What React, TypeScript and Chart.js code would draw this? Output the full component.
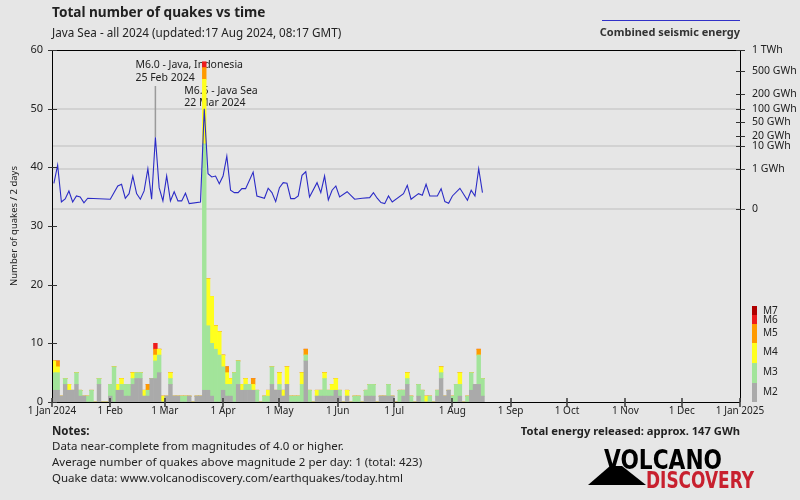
import React, { useEffect, useRef } from 'react';
import { Chart, registerables } from 'chart.js';

Chart.register(...registerables);

// ---------- data ----------
const monthDays = [0, 31, 60, 91, 121, 152, 182, 213, 244, 274, 305, 335, 366];
const monthLabels = ['1 Jan 2024', '1 Feb', '1 Mar', '1 Apr', '1 May', '1 Jun', '1 Jul', '1 Aug', '1 Sep', '1 Oct', '1 Nov', '1 Dec', '1 Jan 2025'];

// quakes per 2-day bin, bin i covers days 2i..2i+2 of 2024
const countM2 = [
  2, 2, 1, 3, 2, 2, 3, 1, 1, 0,
  0, 0, 3, 0, 0, 1, 0, 2, 2, 1,
  1, 3, 4, 4, 1, 1, 4, 4, 5, 0,
  1, 3, 1, 1, 0, 0, 1, 0, 1, 1,
  2, 2, 1, 0, 0, 2, 1, 1, 0, 3,
  2, 2, 2, 2, 0, 0, 0, 0, 3, 2,
  2, 1, 3, 0, 0, 0, 0, 7, 0, 0,
  1, 1, 1, 1, 1, 2, 1, 0, 1, 0,
  0, 0, 0, 1, 1, 1, 0, 1, 1, 1,
  1, 0, 0, 1, 3, 0, 0, 1, 0, 0,
  0, 0, 1, 4, 1, 2, 0, 0, 1, 0,
  0, 2, 3, 3, 1,
];
const countM3 = [
  3, 3, 0, 1, 0, 0, 2, 1, 0, 1,
  2, 0, 1, 0, 0, 2, 6, 0, 1, 2,
  2, 1, 1, 1, 0, 1, 0, 3, 3, 0,
  0, 1, 0, 0, 1, 1, 0, 0, 0, 0,
  42, 11, 9, 9, 8, 4, 2, 2, 5, 4,
  0, 1, 1, 0, 2, 0, 1, 1, 3, 0,
  1, 0, 0, 1, 1, 1, 3, 1, 2, 0,
  0, 1, 3, 1, 1, 0, 1, 0, 0, 0,
  1, 1, 0, 1, 2, 2, 0, 0, 0, 2,
  0, 0, 2, 1, 1, 1, 0, 2, 2, 0,
  1, 0, 1, 1, 0, 0, 1, 3, 2, 0,
  1, 3, 0, 5, 3,
];
const countM4 = [
  2, 1, 0, 0, 1, 0, 0, 0, 0, 0,
  0, 0, 0, 0, 0, 0, 0, 1, 1, 0,
  0, 1, 0, 0, 1, 0, 0, 1, 1, 1,
  0, 1, 0, 0, 0, 0, 0, 0, 0, 0,
  11, 8, 8, 4, 4, 2, 2, 1, 0, 0,
  1, 1, 0, 1, 0, 0, 0, 1, 0, 0,
  2, 1, 3, 0, 0, 0, 2, 0, 0, 0,
  1, 0, 1, 0, 1, 2, 0, 0, 1, 0,
  0, 0, 0, 0, 0, 0, 0, 0, 0, 0,
  0, 0, 0, 0, 1, 0, 0, 0, 0, 1,
  0, 0, 0, 1, 0, 0, 0, 0, 2, 0,
  0, 0, 0, 0, 0,
];
const countM5 = [
  0, 1, 0, 0, 0, 0, 0, 0, 0, 0,
  0, 0, 0, 0, 0, 0, 0, 0, 0, 0,
  0, 0, 0, 0, 0, 1, 0, 1, 0, 0,
  0, 0, 0, 0, 0, 0, 0, 0, 0, 0,
  2, 0, 0, 0, 0, 0, 1, 0, 0, 0,
  0, 0, 0, 1, 0, 0, 0, 0, 0, 0,
  0, 0, 0, 0, 0, 0, 0, 1, 0, 0,
  0, 0, 0, 0, 0, 0, 0, 0, 0, 0,
  0, 0, 0, 0, 0, 0, 0, 0, 0, 0,
  0, 0, 0, 0, 0, 0, 0, 0, 0, 0,
  0, 0, 0, 0, 0, 0, 0, 0, 0, 0,
  0, 0, 0, 1, 0,
];
const countM6 = [
  0, 0, 0, 0, 0, 0, 0, 0, 0, 0,
  0, 0, 0, 0, 0, 0, 0, 0, 0, 0,
  0, 0, 0, 0, 0, 0, 0, 1, 0, 0,
  0, 0, 0, 0, 0, 0, 0, 0, 0, 0,
  1, 0, 0, 0, 0, 0, 0, 0, 0, 0,
  0, 0, 0, 0, 0, 0, 0, 0, 0, 0,
  0, 0, 0, 0, 0, 0, 0, 0, 0, 0,
  0, 0, 0, 0, 0, 0, 0, 0, 0, 0,
  0, 0, 0, 0, 0, 0, 0, 0, 0, 0,
  0, 0, 0, 0, 0, 0, 0, 0, 0, 0,
  0, 0, 0, 0, 0, 0, 0, 0, 0, 0,
  0, 0, 0, 0, 0,
];

// combined seismic energy (GWh) per 2-day bin, at day-of-year
const energyDays = [
  1, 3, 5, 7, 9, 11, 13, 15, 17, 19, 31, 35, 37, 39, 41, 43, 45, 47, 49, 51,
  53, 55, 57, 59, 61, 63, 65, 67, 69, 71, 73, 79, 81, 83, 85, 87, 89, 91, 93, 95,
  97, 99, 101, 103, 107, 109, 113, 115, 117, 119, 121, 123, 125, 127, 129, 131, 133, 135, 137, 141,
  143, 145, 147, 149, 151, 153, 157, 161, 165, 169, 171, 173, 175, 177, 179, 181, 187, 189, 191, 195,
  197, 199, 201, 205, 207, 209, 211, 213, 217, 221, 223, 225, 227, 229,
];
const energyGWh = [
  0.109, 1.61, 0.00016, 0.00098, 0.0185, 0.00016, 0.0036, 0.0024, 0.000076, 0.00137, 0.00084, 0.063, 0.0895, 0.00137, 0.0082, 0.382, 0.0082, 0.00084, 0.0185, 1.04,
  0.00084, 18.9, 0.043, 0.00032, 0.382, 0.00032, 0.015, 0.00032, 0.00032, 0.0093, 0.00004, 0.00016, 100, 0.535, 0.328, 0.382, 0.101, 0.382, 4.08, 0.0224,
  0.0112, 0.0112, 0.0337, 0.0337, 0.677, 0.0036, 0.00137, 0.0372, 0.0112, 0.0002, 0.043, 0.123, 0.109, 0.00113, 0.00113, 0.0036, 0.424, 0.705, 0.0024, 0.123,
  0.0112, 0.382, 0.00058, 0.0224, 0.063, 0.0024, 0.015, 0.00084, 0.00137, 0.0018, 0.0112, 0.00137, 0.0001, 0.00004, 0.0036, 0.00016, 0.0082, 0.0729, 0.00084, 0.0082,
  0.0047, 0.0895, 0.0036, 0.0036, 0.0337, 0.0002, 0.00006, 0.0036, 0.0372, 0.0005, 0.0224, 0.0036, 1.04, 0.0112,
];

const energyTickGWh = [0, 1, 10, 20, 50, 100, 200, 500, 1000];
const energyTickLabels = ['0', '1 GWh', '10 GWh', '20 GWh', '50 GWh', '100 GWh', '200 GWh', '500 GWh', '1 TWh'];
const energyGridGWh = [0, 1, 10, 100];

const countTicks = [0, 10, 20, 30, 40, 50, 60];

const magLabels = ['M2', 'M3', 'M4', 'M5', 'M6', 'M7'];
const magColors = ['#aaaaaa', '#a2e49a', '#ffff1e', '#ff9a00', '#ee1c1c', '#b00000'];

const events = [
  { day: 55, gwh: 18.9, line1: 'M6.0 - Java, Indonesia', line2: '25 Feb 2024', y1: 65, y2: 78, stem: true },
  { day: 81, gwh: 100, line1: 'M6.5 - Java Sea', line2: '22 Mar 2024', y1: 91, y2: 103, stem: false },
];

const FONT = "'Noto Sans', 'DejaVu Sans', sans-serif";
const NARROW = "'Liberation Sans Narrow', 'DejaVu Sans Condensed', 'Liberation Sans', sans-serif";

const energyAxis = (e: number) => Math.pow(e, 0.2);

const decorPlugin = {
  id: 'decor',
  beforeDraw(chart: any) {
    const { ctx, width, height } = chart;
    ctx.save();
    ctx.fillStyle = '#e6e6e6';
    ctx.fillRect(0, 0, width, height);
    ctx.restore();
  },
  beforeDatasetsDraw(chart: any) {
    const { ctx } = chart;
    const xs = chart.scales.x;
    const ye = chart.scales.yE;
    ctx.save();
    events.forEach((ev) => {
      const px = xs.getPixelForValue(ev.day);
      if (ev.stem) {
        ctx.strokeStyle = '#9a9a9a';
        ctx.lineWidth = 1.5;
        ctx.beginPath();
        ctx.moveTo(px, 86);
        ctx.lineTo(px, ye.getPixelForValue(energyAxis(ev.gwh)));
        ctx.stroke();
      }
      ctx.fillStyle = '#222';
      ctx.font = `10.5px ${FONT}`;
      ctx.textAlign = 'left';
      ctx.textBaseline = 'middle';
      ctx.fillText(ev.line1, px - 20, ev.y1);
      ctx.fillText(ev.line2, px - 20, ev.y2);
    });
    ctx.restore();
  },
  afterDraw(chart: any) {
    const { ctx, chartArea } = chart;
    const { left, right, top, bottom } = chartArea;
    const xs = chart.scales.x;
    const ys = chart.scales.y;
    const ye = chart.scales.yE;
    ctx.save();
    // frame
    ctx.strokeStyle = '#000';
    ctx.lineWidth = 1;
    ctx.beginPath();
    ctx.moveTo(left, top + 0.5);
    ctx.lineTo(right, top + 0.5);
    ctx.moveTo(left + 0.5, top);
    ctx.lineTo(left + 0.5, bottom);
    ctx.moveTo(right + 0.5, top);
    ctx.lineTo(right + 0.5, bottom);
    ctx.moveTo(left, bottom + 0.5);
    ctx.lineTo(right, bottom + 0.5);
    ctx.stroke();
    // axis tick marks
    ctx.lineWidth = 1.2;
    ctx.strokeStyle = '#333';
    ctx.beginPath();
    countTicks.forEach((v) => {
      const y = Math.round(ys.getPixelForValue(v)) + 0.5;
      ctx.moveTo(left - 4, y);
      ctx.lineTo(left + 5, y);
    });
    energyTickGWh.forEach((e) => {
      const y = Math.round(ye.getPixelForValue(energyAxis(e))) + 0.5;
      ctx.moveTo(right - 4, y);
      ctx.lineTo(right + 5, y);
    });
    ctx.stroke();
    ctx.lineWidth = 1.6;
    ctx.strokeStyle = '#444';
    ctx.beginPath();
    monthDays.forEach((d) => {
      const x = Math.round(xs.getPixelForValue(d));
      ctx.moveTo(x, bottom - 4);
      ctx.lineTo(x, bottom + 5);
    });
    ctx.stroke();

    // titles
    ctx.fillStyle = '#222';
    ctx.textAlign = 'left';
    ctx.textBaseline = 'middle';
    ctx.font = `bold 13.6px ${FONT}`;
    ctx.fillText('Total number of quakes vs time', 52, 13);
    ctx.font = `11.7px ${FONT}`;
    ctx.fillText('Java Sea - all 2024 (updated:17 Aug 2024, 08:17 GMT)', 52, 34);

    // energy legend
    ctx.strokeStyle = '#3030c8';
    ctx.lineWidth = 1;
    ctx.beginPath();
    ctx.moveTo(602, 20.5);
    ctx.lineTo(740, 20.5);
    ctx.stroke();
    ctx.fillStyle = '#333';
    ctx.textAlign = 'right';
    ctx.font = `bold 11px ${FONT}`;
    ctx.fillText('Combined seismic energy', 740, 33);

    // y title
    ctx.save();
    ctx.translate(14, 226);
    ctx.rotate(-Math.PI / 2);
    ctx.textAlign = 'center';
    ctx.fillStyle = '#222';
    ctx.font = `9.5px ${FONT}`;
    ctx.fillText('Number of quakes / 2 days', 0, 0);
    ctx.restore();

    // magnitude legend
    const bands = [
      { y0: 383, y1: 402 },
      { y0: 363, y1: 383 },
      { y0: 343, y1: 363 },
      { y0: 324, y1: 343 },
      { y0: 315, y1: 324 },
      { y0: 306, y1: 315 },
    ];
    const labelY = [392, 372, 352, 333, 320, 311];
    bands.forEach((b, i) => {
      ctx.fillStyle = magColors[i];
      ctx.fillRect(752, b.y0, 5, b.y1 - b.y0);
      ctx.fillStyle = '#222';
      ctx.textAlign = 'left';
      ctx.font = `10px ${FONT}`;
      ctx.fillText(magLabels[i], 763, labelY[i]);
    });

    // notes
    ctx.fillStyle = '#222';
    ctx.textAlign = 'left';
    ctx.font = `bold 11.5px ${FONT}`;
    ctx.fillText('Notes:', 52, 432);
    ctx.font = `11.5px ${FONT}`;
    ctx.fillText('Data near-complete from magnitudes of 4.0 or higher.', 52, 447);
    ctx.fillText('Average number of quakes above magnitude 2 per day: 1 (total: 423)', 52, 463);
    ctx.fillText('Quake data: www.volcanodiscovery.com/earthquakes/today.html', 52, 479);
    ctx.textAlign = 'right';
    ctx.font = `bold 11.2px ${FONT}`;
    ctx.fillText('Total energy released: approx. 147 GWh', 740, 432);

    // logo
    ctx.fillStyle = '#000';
    ctx.beginPath();
    ctx.moveTo(588, 485);
    ctx.lineTo(610, 466);
    ctx.lineTo(622, 466);
    ctx.lineTo(646, 485);
    ctx.closePath();
    ctx.fill();
    ctx.textAlign = 'left';
    ctx.textBaseline = 'alphabetic';
    ctx.font = `bold 26px ${NARROW}`;
    ctx.fillText('VOLCANO', 604, 469, 118);
    ctx.fillStyle = '#c8202e';
    ctx.font = `bold 23px ${NARROW}`;
    ctx.fillText('DISCOVERY', 646, 488, 108);
    ctx.restore();
  },
};

export default function App() {
  const ref = useRef<HTMLCanvasElement | null>(null);

  useEffect(() => {
    if (!ref.current) return;
    const binData = (arr: number[]) => arr.map((v, i) => ({ x: 2 * i + 1, y: v }));
    const counts = [countM2, countM3, countM4, countM5, countM6];
    const barSets = counts.map((arr, k) => ({
      type: 'bar' as const,
      label: magLabels[k],
      data: binData(arr),
      backgroundColor: magColors[k],
      borderWidth: 0,
      barPercentage: 1,
      categoryPercentage: 1,
      yAxisID: 'y',
      order: 1,
    }));
    const lineSet = {
      type: 'line' as const,
      label: 'Combined seismic energy',
      data: energyDays.map((d, i) => ({ x: d, y: energyAxis(energyGWh[i]) })),
      borderColor: '#2b2bc6',
      borderWidth: 1.1,
      pointRadius: 0,
      tension: 0,
      fill: false,
      yAxisID: 'yE',
      order: 0,
    };

    const chart = new Chart(ref.current, {
      type: 'bar',
      data: { datasets: [...barSets, lineSet] as any },
      plugins: [decorPlugin],
      options: {
        responsive: false,
        animation: false,
        devicePixelRatio: 1,
        layout: { padding: { top: 50, left: 0, right: 0, bottom: 0 } },
        plugins: { legend: { display: false }, tooltip: { enabled: false }, title: { display: false } },
        scales: {
          x: {
            type: 'linear',
            stacked: true,
            offset: false,
            min: 0,
            max: 366,
            grid: { display: false, drawTicks: false, offset: false },
            border: { display: false },
            afterBuildTicks: (s: any) => {
              s.ticks = monthDays.map((v) => ({ value: v }));
            },
            afterFit: (s: any) => {
              s.height = 98;
            },
            ticks: {
              autoSkip: false,
              maxRotation: 0,
              padding: 3,
              color: '#222',
              font: { family: FONT, size: 10 },
              callback: (_v: any, i: number) => monthLabels[i],
            },
          },
          y: {
            type: 'linear',
            position: 'left',
            stacked: true,
            min: 0,
            max: 60,
            grid: { display: false, drawTicks: false },
            border: { display: false },
            afterBuildTicks: (s: any) => {
              s.ticks = countTicks.map((v) => ({ value: v }));
            },
            afterFit: (s: any) => {
              s.width = 52;
            },
            ticks: {
              padding: 9,
              color: '#222',
              font: { family: FONT, size: 11 },
            },
          },
          yE: {
            type: 'linear',
            position: 'right',
            min: -4.85,
            max: 3.99,
            border: { display: false },
            grid: {
              drawTicks: false,
              lineWidth: 2,
              color: (c: any) =>
                energyGridGWh.includes(energyTickGWh[c.index]) ? '#d2d2d2' : 'rgba(0,0,0,0)',
            },
            afterBuildTicks: (s: any) => {
              s.ticks = energyTickGWh.map((e) => ({ value: energyAxis(e) }));
            },
            afterFit: (s: any) => {
              s.width = 60;
            },
            ticks: {
              autoSkip: false,
              padding: 12,
              color: '#222',
              font: { family: FONT, size: 10.5 },
              callback: (_v: any, i: number) => energyTickLabels[i],
            },
          },
        },
      } as any,
    });
    return () => chart.destroy();
  }, []);

  return (
    <div style={{ position: 'absolute', left: 0, top: 0, width: 800, height: 500 }}>
      <canvas ref={ref} width={800} height={500} style={{ display: 'block' }} />
    </div>
  );
}
